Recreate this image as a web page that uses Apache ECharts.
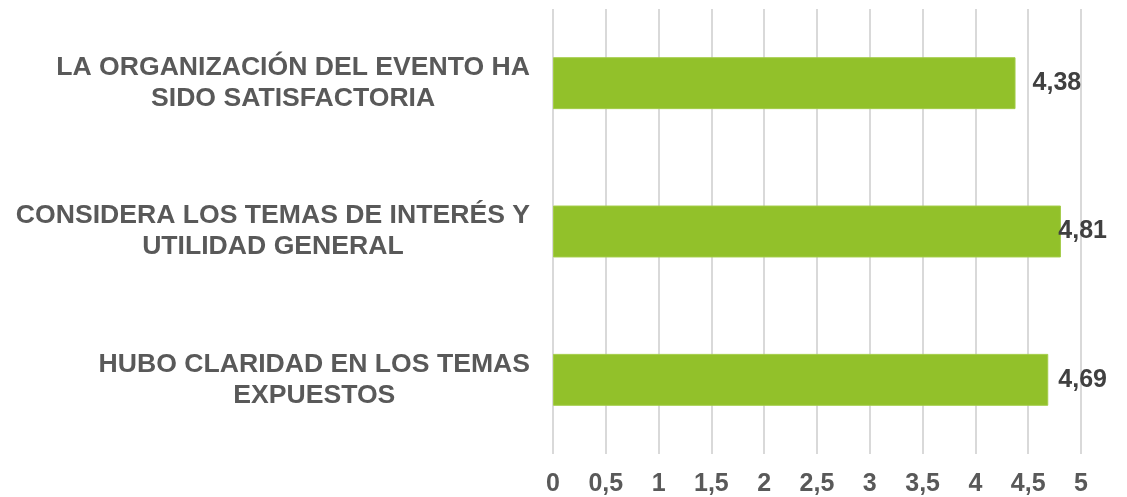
<!DOCTYPE html>
<html>
<head>
<meta charset="utf-8">
<script src="https://cdn.jsdelivr.net/npm/echarts@6/dist/echarts.min.js"></script>
<style>
  html, body { margin: 0; padding: 0; background: #fff; }
  #main { width: 1127px; height: 497px; }
</style>
</head>
<body>
<div id="main"></div>
<script>
// categorias (de arriba hacia abajo)
var categorias = [
    'LA ORGANIZACIÓN DEL EVENTO HA\nSIDO SATISFACTORIA',
    'CONSIDERA LOS TEMAS DE INTERÉS Y\nUTILIDAD GENERAL',
    'HUBO CLARIDAD EN LOS TEMAS\nEXPUESTOS'
];
var valores = [4.38, 4.81, 4.69];

var fuente = '"Liberation Sans", Arial, sans-serif';
var limiteEtiqueta = 1107; // borde derecho del area de etiquetas

var chart = echarts.init(document.getElementById('main'));

var option = {
    backgroundColor: '#ffffff',
    animation: false,
    grid: {
        left: 553,
        right: 46,
        top: 9,
        bottom: 42
    },
    xAxis: {
        type: 'value',
        min: 0,
        max: 5,
        interval: 0.5,
        axisLine: {show: false},
        axisTick: {show: false},
        splitLine: {
            show: true,
            lineStyle: {color: '#d9d9d9', width: 2}
        },
        axisLabel: {
            margin: 18,
            color: '#595959',
            fontSize: 25,
            fontWeight: 'bold',
            fontFamily: fuente,
            formatter: function (v) {
                return String(v).replace('.', ',');
            }
        }
    },
    yAxis: {
        type: 'category',
        inverse: true,
        data: categorias,
        axisLine: {show: false},
        axisTick: {show: false},
        splitLine: {show: false},
        axisLabel: {
            margin: 23,
            align: 'right',
            color: '#595959',
            fontSize: 26.6,
            fontWeight: 'bold',
            fontFamily: fuente,
            lineHeight: 31,
            formatter: function (v) {
                return v.split('\n').map(function (s) {
                    return '{c|' + s + '}';
                }).join('\n');
            },
            rich: {
                c: {
                    align: 'center',
                    color: '#595959',
                    fontSize: 26.6,
                    fontWeight: 'bold',
                    fontFamily: fuente,
                    lineHeight: 31
                }
            }
        }
    },
    series: [
        {
            type: 'bar',
            data: valores,
            barCategoryGap: '65%',
            itemStyle: {
                color: '#92c12a',
                borderColor: '#a3cc48',
                borderWidth: 1
            },
            label: {
                show: true,
                position: 'right',
                distance: 17,
                color: '#404040',
                fontSize: 25,
                fontWeight: 'bold',
                fontFamily: fuente,
                formatter: function (p) {
                    return p.value.toFixed(2).replace('.', ',');
                }
            },
            // como en Excel: la etiqueta no sale del area del grafico
            labelLayout: function (p) {
                var r = p.labelRect;
                var x = r.x;
                if (r.x + r.width > limiteEtiqueta) {
                    x = limiteEtiqueta - r.width;
                }
                return {x: x, y: r.y, align: 'left', verticalAlign: 'top'};
            }
        }
    ]
};

chart.setOption(option);
</script>
</body>
</html>
